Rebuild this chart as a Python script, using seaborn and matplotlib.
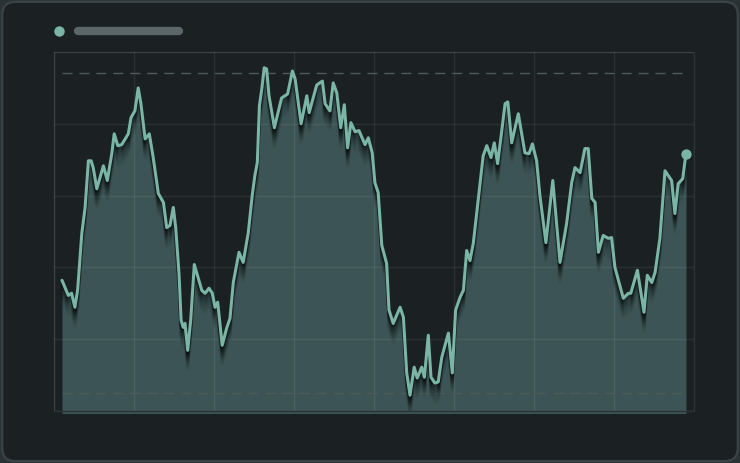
import numpy as np
import pandas as pd
import matplotlib
matplotlib.use("Agg")
import matplotlib.pyplot as plt
import matplotlib.patheffects as pe
from matplotlib.patches import FancyBboxPatch
import seaborn as sns

# day index and level
days = [0, 2.1, 3.2, 4.3, 5.2, 6.6, 7.7, 8.8, 9.7, 10.4, 11.6, 13.8, 15.1, 16.6, 17.4,
        18.6, 19.9, 22.1, 23.0, 24.3, 25.4, 26.3, 27.7, 29.1, 30.4, 32.1, 33.8, 34.9,
        36.0, 37.1, 37.9, 39.0, 39.7, 40.4, 41.0, 41.9, 42.9, 44.1, 46.6, 47.7, 49.0,
        50.1, 51.0, 51.9, 53.4, 54.9, 56.0, 57.1, 59.0, 60.4, 62.1, 63.4, 64.3, 65.1,
        65.8, 66.6, 67.4, 68.2, 69.0, 70.8, 73.2, 75.2, 76.8, 77.7, 79.7, 81.6, 82.4,
        84.9, 86.8, 87.7, 89.3, 90.4, 91.6, 92.9, 94.1, 95.2, 96.3, 97.7, 99.0, 101.0,
        102.1, 103.4, 104.3, 105.4, 106.6, 108.2, 109.0, 110.4, 112.7, 113.8, 114.9,
        116.0, 117.4, 118.4, 119.9, 120.8, 122.1, 123.0, 124.3, 125.4, 126.6, 128.8,
        130.1, 131.2, 132.7, 133.8, 134.9, 136.0, 137.1, 138.8, 140.4, 141.6, 143.0,
        144.1, 145.2, 146.3, 147.7, 148.6, 149.9, 152.1, 154.3, 155.7, 156.8, 158.2,
        159.3, 161.3, 163.6, 166.0, 168.2, 169.9, 171.0, 172.7, 174.3, 175.4, 176.6,
        177.7, 178.8, 180.4, 182.1, 183.2, 184.3, 187.1, 188.8, 189.6, 191.8, 194.0,
        195.1, 196.6, 197.7, 199.3, 201.0, 203.2, 204.3, 205.4, 206.9, 208.0]
level = [36.4, 32.2, 32.8, 28.9, 33.6, 49.4, 56.7, 69.7, 69.7, 67.8, 61.9, 68.3, 64.2,
         71.7, 77.2, 73.9, 74.2, 77.2, 81.7, 83.6, 90.0, 85.6, 75.8, 77.2, 70.6, 60.6,
         58.1, 51.1, 51.7, 56.7, 51.1, 38.3, 25.3, 23.3, 24.4, 16.9, 25.3, 40.8, 33.6,
         32.8, 34.2, 32.8, 28.9, 30.3, 18.3, 23.1, 25.8, 35.8, 44.2, 41.4, 49.7, 60.0,
         65.6, 69.2, 85.0, 89.7, 95.6, 95.3, 87.8, 78.9, 87.2, 88.3, 94.7, 92.5, 80.0,
         87.8, 83.1, 90.8, 91.9, 85.6, 83.6, 91.4, 88.6, 78.9, 85.3, 73.3, 80.3, 77.8,
         78.1, 74.2, 76.1, 71.9, 63.6, 60.8, 46.1, 41.1, 28.1, 24.4, 28.9, 26.1, 10.6,
         4.4, 12.2, 9.2, 12.2, 9.4, 21.1, 9.4, 7.8, 8.1, 15.0, 21.7, 10.6, 28.1, 31.7,
         33.6, 44.7, 41.9, 46.7, 59.4, 71.1, 73.9, 70.6, 74.7, 68.9, 76.1, 85.6, 86.1,
         74.7, 82.8, 71.9, 71.7, 74.4, 69.7, 60.0, 46.9, 64.2, 41.4, 52.2, 63.6, 67.8,
         66.4, 73.1, 73.1, 59.2, 58.1, 44.2, 48.9, 48.1, 48.3, 40.0, 31.4, 32.8, 32.8,
         39.2, 27.5, 37.8, 35.8, 38.6, 48.1, 66.9, 64.2, 55.0, 63.3, 64.7, 71.7]
upper_ref = 94.2
lower_ref = 5.0

BG = "#1b2123"
LINE = "#7ab5a6"
FILL = "#3c5455"

sns.set_theme(style="dark", rc={"axes.facecolor": BG, "figure.facecolor": BG})

df = pd.DataFrame({"day": days, "level": level})

fig = plt.figure(figsize=(7.4, 4.63), dpi=100)
fig.patch.set_facecolor("#2a3234")
card = FancyBboxPatch((0.003, 0.004), 0.994, 0.992, boxstyle="round,pad=0,rounding_size=0.018",
                      transform=fig.transFigure, facecolor=BG, edgecolor="#3a4446",
                      linewidth=1.6, mutation_aspect=740 / 463, zorder=-10)
fig.patches.append(card)

# legend placeholder
fig.add_artist(plt.Line2D([59 / 740], [1 - 31 / 463], transform=fig.transFigure, marker="o",
                          markersize=7.5, color=LINE, markeredgewidth=0, linestyle="none"))
fig.add_artist(plt.Line2D([78 / 740, 179 / 740], [1 - 31 / 463] * 2, transform=fig.transFigure,
                          color="#5b6668", linewidth=6, solid_capstyle="round"))

ax = fig.add_axes([54 / 740, 52 / 463, 640 / 740, 359 / 463])
ax.set_facecolor(BG)
ax.set_xlim(-8 / 3, 632 / 3)
ax.set_ylim(0, 100)

ax.fill_between(df["day"], df["level"], -0.7, color=FILL, linewidth=0, zorder=1, clip_on=False)

# soft drop shadow under the line: stacked offset copies
shadow = [pe.SimpleLineShadow(offset=(0, -k * 1.4), shadow_color="black", alpha=a)
          for k, a in zip(range(1, 11), [0.3, 0.25, 0.2, 0.16, 0.12, 0.09, 0.07, 0.05, 0.04, 0.03])]
sns.lineplot(data=df, x="day", y="level", ax=ax, color=LINE, linewidth=2.2, zorder=4,
             path_effects=shadow[::-1] + [pe.Normal()])
ax.scatter([days[-1]], [level[-1]], s=55, color=LINE, zorder=5, clip_on=False, linewidths=0)

for ref in (upper_ref, lower_ref):
    ax.axhline(ref, xmin=8 / 640, xmax=632 / 640, color="#4f5a5c", linewidth=1,
               linestyle=(0, (7.2, 5)), zorder=3)

ax.set_xticks(np.linspace(-8 / 3, 632 / 3, 9))
ax.set_yticks(np.linspace(0, 100, 6))
ax.grid(True, color="white", alpha=0.07, linewidth=1)
ax.set_axisbelow(False)
for line in ax.get_xgridlines() + ax.get_ygridlines():
    line.set_zorder(2)
ax.tick_params(left=False, bottom=False, labelleft=False, labelbottom=False)
ax.set_xlabel("")
ax.set_ylabel("")
for s in ax.spines.values():
    s.set_visible(True)
    s.set_color("#2b3335")
    s.set_linewidth(1)

fig.savefig("out.png", dpi=100, facecolor=fig.get_facecolor())
